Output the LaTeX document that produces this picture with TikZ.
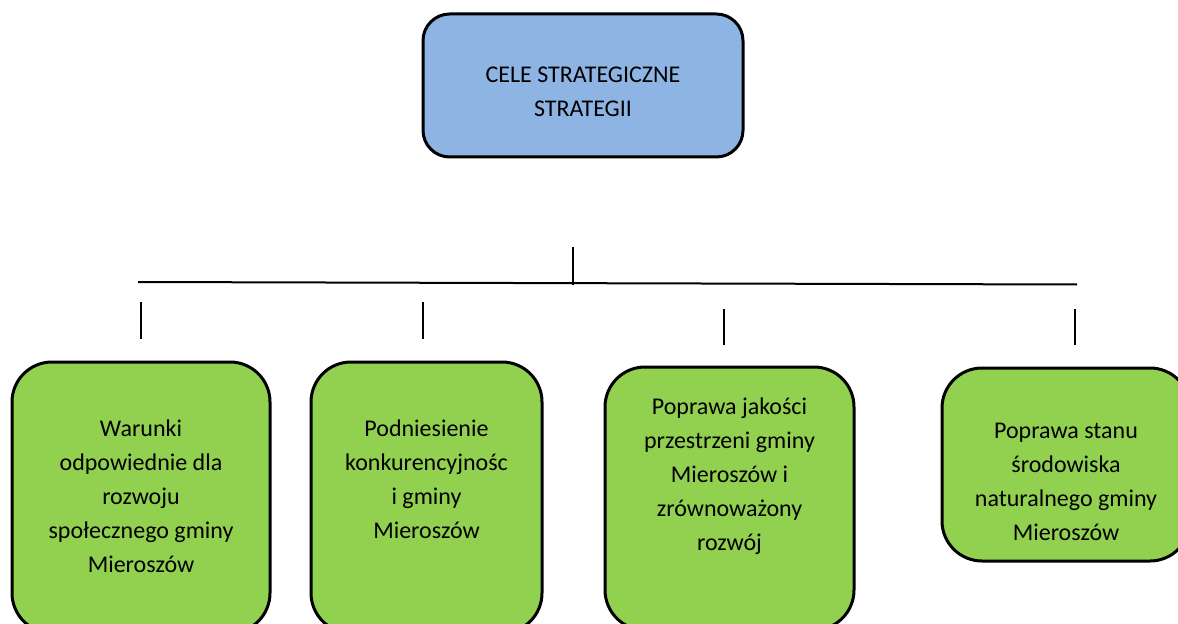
\documentclass[tikz,border=0pt]{standalone}
\usepackage{fontspec}
\setmainfont{Carlito}
\usepackage{xcolor}
\usepackage{tikz}
\usetikzlibrary{positioning, calc}
\definecolor{topblue}{HTML}{8EB4E3}
\definecolor{goalgreen}{HTML}{92D050}

\begin{document}
\begin{tikzpicture}[
    x=0.75pt, y=-0.75pt,
    topbox/.style={rectangle, draw, line width=2.25pt, rounded corners=20pt, fill=topblue, minimum width=240pt, minimum height=107.25pt},
    goalbox/.style={rectangle, draw, line width=2.25pt, rounded corners=30pt, fill=goalgreen},
    boxtext/.style={align=center, font=\fontsize{18}{25.5}\selectfont},
    line/.style={line width=1.5pt}
]
\clip (0,0) rectangle (1178,624);

% Main goal
\node[topbox] (cele) at (583,85.5) {};
\node[boxtext, yshift=-5pt] (celetext) at (cele.center) {CELE STRATEGICZNE\\STRATEGII};

% Strategic goals
\node[goalbox, minimum width=193.5pt, minimum height=203.25pt] (goal1) at (141,497.5) {};
\node[goalbox, minimum width=173.25pt, minimum height=203.25pt] (goal2) at (426.5,497.5) {};
\node[goalbox, minimum width=186.75pt, minimum height=197.25pt] (goal3) at (729.5,498.5) {};
\node[goalbox, minimum width=186pt, minimum height=144.75pt] (goal4) at (1066,464.5) {};

\node[boxtext, yshift=1pt] (goal1text) at (goal1.center) {Warunki\\odpowiednie dla\\rozwoju\\społecznego gminy\\Mieroszów};
\node[boxtext, yshift=14pt] (goal2text) at (goal2.center) {Podniesienie\\konkurencyjnośc\\i gminy\\Mieroszów};
\node[boxtext, yshift=17pt] (goal3text) at (goal3.center) {Poprawa jakości\\przestrzeni gminy\\Mieroszów i\\zrównoważony\\rozwój};
\node[boxtext, yshift=-13pt] (goal4text) at (goal4.center) {Poprawa stanu\\środowiska\\naturalnego gminy\\Mieroszów};

% Connector lines
\coordinate (stemtop) at (573,247);
\coordinate (stembot) at (573,285);
\coordinate (busleft) at (138,282);
\coordinate (busright) at (1077,284.5);
\coordinate (tick1a) at (141,302);
\coordinate (tick1b) at (141,339);
\coordinate (tick2a) at (423,302);
\coordinate (tick2b) at (423,339);
\coordinate (tick3a) at (724,309);
\coordinate (tick3b) at (724,345);
\coordinate (tick4a) at (1075,309);
\coordinate (tick4b) at (1075,345);

\draw[line] (stemtop) -- (stembot);
\draw[line] (busleft) -- (busright);
\draw[line] (tick1a) -- (tick1b);
\draw[line] (tick2a) -- (tick2b);
\draw[line] (tick3a) -- (tick3b);
\draw[line] (tick4a) -- (tick4b);
\end{tikzpicture}
\end{document}
